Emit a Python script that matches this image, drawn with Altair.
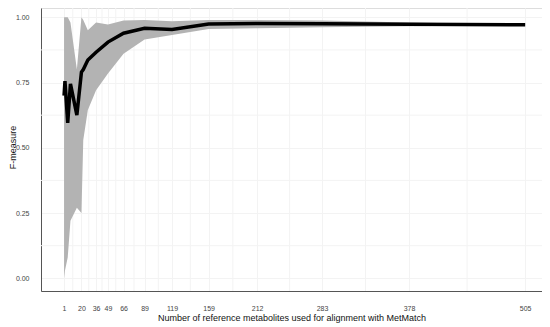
import altair as alt
import pandas as pd

# Data
x_vals = [1, 2, 5, 8, 15, 20, 22, 27, 36, 49, 66, 89, 119, 159, 212, 283, 378, 505]
f_mean = [0.70, 0.755, 0.595, 0.745, 0.625, 0.79, 0.80, 0.836, 0.866, 0.905, 0.939, 0.958, 0.953, 0.974, 0.976, 0.975, 0.973, 0.971]
f_upper = [1.0, 1.0, 1.0, 0.98, 0.80, 1.0, 0.99, 0.95, 0.98, 0.972, 0.988, 0.99, 0.985, 0.99, 0.99, 0.988, 0.98, 0.972]
f_lower = [0.0, 0.03, 0.08, 0.22, 0.27, 0.25, 0.53, 0.645, 0.72, 0.785, 0.86, 0.915, 0.932, 0.955, 0.958, 0.962, 0.966, 0.970]

x_ticks = [1, 20, 36, 49, 66, 89, 119, 159, 212, 283, 378, 505]
y_ticks = [0.0, 0.25, 0.5, 0.75, 1.0]
x_minor = [(a + b) / 2 for a, b in zip(x_ticks[:-1], x_ticks[1:])]
y_minor = [0.125, 0.375, 0.625, 0.875]

df = pd.DataFrame({"n": x_vals, "f": f_mean, "lo": f_lower, "hi": f_upper})
gx = pd.DataFrame({"v": x_minor})
gy = pd.DataFrame({"v": y_minor})

X_DOM = [-24.2, 523.4]
Y_DOM = [-0.0487, 1.0356]
GRID = "#f3f3f3"
FONT = "Liberation Sans"

xs = alt.Scale(domain=X_DOM, nice=False, zero=False)
ys = alt.Scale(domain=Y_DOM, nice=False, zero=False)

x_axis = alt.Axis(
    values=x_ticks, title="Number of reference metabolites used for alignment with MetMatch",
    labelOverlap=False, ticks=False, labelPadding=13, labelFontSize=7, labelColor="#444444",
    titleFontSize=9, titleColor="#111111", titleFontWeight="normal", titleY=26,
    titleBaseline="middle", domainColor="#555555", grid=True, gridColor=GRID,
    labelFont=FONT, titleFont=FONT,
)
y_axis = alt.Axis(
    values=y_ticks, format=".2f", title="F-measure", ticks=False, labelPadding=12,
    labelFontSize=7, labelColor="#444444", titleFontSize=9, titleColor="#111111",
    titleFontWeight="normal", titleX=-33, titleY=139, titleAngle=270, titleAlign="center",
    titleBaseline="top", domainColor="#555555", grid=True, gridColor=GRID,
    labelFont=FONT, titleFont=FONT,
)

vgrid = alt.Chart(gx).mark_rule(color=GRID, strokeWidth=1).encode(
    x=alt.X("v:Q", scale=xs, axis=x_axis)
)
hgrid = alt.Chart(gy).mark_rule(color=GRID, strokeWidth=1).encode(
    y=alt.Y("v:Q", scale=ys, axis=y_axis)
)
band = alt.Chart(df).mark_area(color="#b3b3b3", opacity=1, clip=True).encode(
    x=alt.X("n:Q", scale=xs, axis=x_axis),
    y=alt.Y("lo:Q", scale=ys, axis=y_axis),
    y2="hi:Q",
)
line = alt.Chart(df).mark_line(color="black", strokeWidth=3.5, strokeJoin="miter", clip=True).encode(
    x=alt.X("n:Q", scale=xs, axis=x_axis),
    y=alt.Y("f:Q", scale=ys, axis=y_axis),
)

chart = alt.layer(vgrid, hgrid, band, line).properties(
    width=501, height=283,
    autosize=alt.AutoSizeParams(type="none"),
    padding={"left": 33, "top": 0, "right": 0, "bottom": 36},
).configure_view(stroke=None).configure(background="white")

chart.save("out.html", embed_options={"renderer": "svg", "actions": False})
